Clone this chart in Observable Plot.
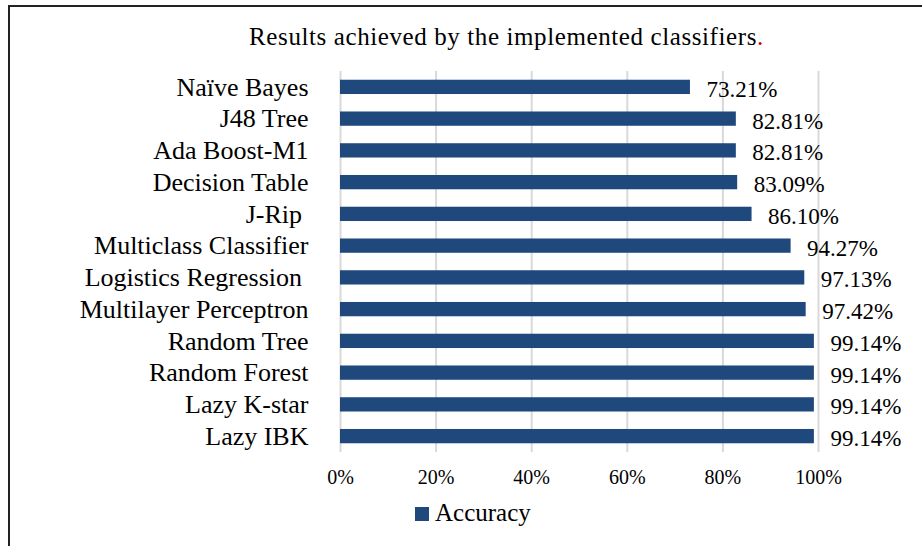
<!DOCTYPE html>
<html>
<head>
<meta charset="utf-8">
<script src="https://cdn.jsdelivr.net/npm/d3@7"></script>
<script src="https://cdn.jsdelivr.net/npm/@observablehq/plot@0.6"></script>
<style>
  html, body { margin: 0; padding: 0; background: #fff; }
  #wrap { position: relative; width: 922px; height: 546px; overflow: hidden; background: #fff;
          font-family: "Liberation Serif", "Times New Roman", serif; color: #000; }
  #frame { position: absolute; left: 8px; top: 5px; width: 930px; height: 560px;
           border-top: 2px solid #222; border-left: 2px solid #222; box-sizing: border-box; }
  #title { position: absolute; left: 0; width: 1013px; top: 24px; text-align: center;
           font-size: 25px; line-height: 25px; letter-spacing: 0.6px; white-space: nowrap; }
  #title .dot { color: #c00000; }
  #chart { position: absolute; left: 0; top: 0; }
  #legend-swatch { position: absolute; left: 415px; top: 507px; width: 14px; height: 14px; background: #1f497d; }
  #legend-text { position: absolute; left: 435px; top: 500px; font-size: 25px; line-height: 25px; white-space: nowrap; }
</style>
</head>
<body>
<div id="wrap">
  <div id="frame"></div>
  <div id="chart"></div>
  <div id="title">Results achieved by the implemented classifiers<span class="dot">.</span></div>
  <div id="legend-swatch"></div>
  <div id="legend-text">Accuracy</div>
</div>
<script>
const categories = [
  "Naïve Bayes",
  "J48 Tree",
  "Ada Boost-M1",
  "Decision Table",
  "J-Rip\u00a0",
  "Multiclass Classifier",
  "Logistics Regression\u00a0",
  "Multilayer Perceptron",
  "Random Tree",
  "Random Forest",
  "Lazy K-star",
  "Lazy IBK"
];
const accuracy = [0.7321, 0.8281, 0.8281, 0.8309, 0.8610, 0.9427, 0.9713, 0.9742, 0.9914, 0.9914, 0.9914, 0.9914];
const xTicks = [0, 0.2, 0.4, 0.6, 0.8, 1.0];
const seriesName = "Accuracy";

const data = categories.map((c, i) => ({classifier: c, accuracy: accuracy[i]}));
const pct0 = d => Math.round(d * 100) + "%";

const chart = Plot.plot({
  width: 922,
  height: 546,
  marginTop: 71,
  marginBottom: 94,
  marginLeft: 340,
  marginRight: 104,
  style: {fontFamily: "'Liberation Serif', 'Times New Roman', serif", background: "transparent", color: "#000", overflow: "visible"},
  x: {domain: [0, 1]},
  y: {domain: categories, paddingInner: 0.55, paddingOuter: 0.275, round: false},
  marks: [
    Plot.gridX(xTicks, {stroke: "#d9d9d9", strokeOpacity: 1, strokeWidth: 2}),
    Plot.axisX({ticks: xTicks, tickSize: 0, tickPadding: 17, fontSize: 20, tickFormat: pct0, label: null}),
    Plot.axisY({tickSize: 0, tickPadding: 32, fontSize: 26, label: null}),
    Plot.barX(data, {x: "accuracy", y: "classifier", fill: "#1f497d"}),
    Plot.text(data, {x: "accuracy", y: "classifier", text: d => (d.accuracy * 100).toFixed(2) + "%",
      textAnchor: "start", dx: 16, dy: 2, fontSize: 23, fill: "#000"})
  ]
});
document.getElementById("chart").appendChild(chart);
document.getElementById("legend-text").textContent = seriesName;
</script>
</body>
</html>
